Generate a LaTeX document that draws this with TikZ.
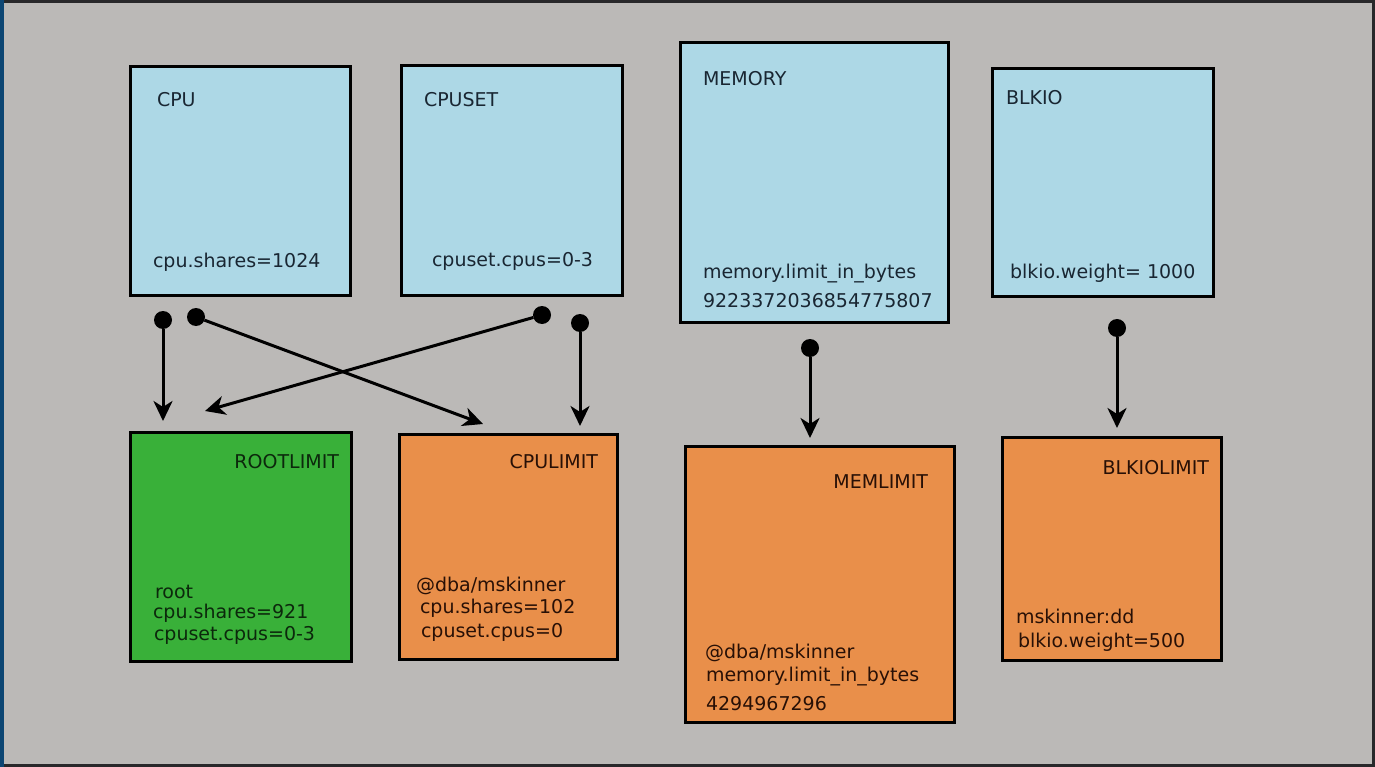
\documentclass[tikz,border=0pt]{standalone}
\usepackage{fontspec}
\setmainfont{DejaVu Sans}
\usetikzlibrary{arrows.meta}
\definecolor{bggray}{RGB}{187,185,183}
\definecolor{framec}{RGB}{40,40,42}
\definecolor{stripc}{RGB}{12,70,115}
\definecolor{lblue}{RGB}{173,216,230}
\definecolor{lgreen}{RGB}{57,176,57}
\definecolor{lorange}{RGB}{233,143,74}
\definecolor{tblue}{RGB}{25,38,50}
\definecolor{tgreen}{RGB}{12,40,12}
\definecolor{torange}{RGB}{40,16,6}
\tikzset{
  box/.style={draw=black, line width=3pt, inner sep=0pt, outer sep=0pt, anchor=north west},
  txt/.style={inner sep=0pt, outer sep=0pt, font=\fontsize{19}{22}\selectfont},
  tl/.style={txt, anchor=base west},
  tr/.style={txt, anchor=base east},
  dotnode/.style={circle, fill=black, inner sep=0pt, minimum size=18pt, outer sep=0pt},
  conn/.style={line width=3pt, -{Stealth[length=20pt,width=19pt,inset=6pt]}},
}
\begin{document}
\begin{tikzpicture}[x=1pt,y=-1pt]
\useasboundingbox (0,0) rectangle (1375,767);
\fill[bggray] (0,0) rectangle (1375,767);
\draw[framec, line width=3pt] (1.5,1.5) rectangle (1373.5,765.5);
\fill[stripc] (0,0) rectangle (3.5,767);

% top boxes
\node[box, fill=lblue, minimum width=220pt, minimum height=228pt] (cpu) at (130,67) {};
\node[box, fill=lblue, minimum width=221pt, minimum height=229pt] (cpuset) at (401,66) {};
\node[box, fill=lblue, minimum width=268pt, minimum height=279pt] (memory) at (680,43) {};
\node[box, fill=lblue, minimum width=221pt, minimum height=227pt] (blkio) at (992,69) {};
% bottom boxes
\node[box, fill=lgreen, minimum width=221pt, minimum height=229pt] (rootlimit) at (130,432) {};
\node[box, fill=lorange, minimum width=218pt, minimum height=225pt] (cpulimit) at (399,434) {};
\node[box, fill=lorange, minimum width=269pt, minimum height=276pt] (memlimit) at (685,446) {};
\node[box, fill=lorange, minimum width=219pt, minimum height=223pt] (blkiolimit) at (1002,437) {};

% texts top
\node[tl, text=tblue] (cpuT) at (157,107) {CPU};
\node[tl, text=tblue] (cpuV) at (153,267) {cpu.shares=1024};
\node[tl, text=tblue] (cpusetT) at (424,107) {CPUSET};
\node[tl, text=tblue] (cpusetV) at (432,266) {cpuset.cpus=0-3};
\node[tl, text=tblue] (memT) at (703,86) {MEMORY};
\node[tl, text=tblue] (memV1) at (703,278) {memory.limit\_in\_bytes};
\node[tl, text=tblue] (memV2) at (703,307) {9223372036854775807};
\node[tl, text=tblue] (blkT) at (1006,105) {BLKIO};
\node[tl, text=tblue] (blkV) at (1010,279) {blkio.weight= 1000};

% texts bottom
\node[tr, text=tgreen] (rootT) at (339,468) {ROOTLIMIT};
\node[tl, text=tgreen] (rootV1) at (155,598) {root};
\node[tl, text=tgreen] (rootV2) at (153,618) {cpu.shares=921};
\node[tl, text=tgreen] (rootV3) at (154,640) {cpuset.cpus=0-3};
\node[tr, text=torange] (cpulT) at (598,468) {CPULIMIT};
\node[tl, text=torange] (cpulV1) at (416,591) {@dba/mskinner};
\node[tl, text=torange] (cpulV2) at (420,613) {cpu.shares=102};
\node[tl, text=torange] (cpulV3) at (421,637) {cpuset.cpus=0};
\node[tr, text=torange] (memlT) at (928,488) {MEMLIMIT};
\node[tl, text=torange] (memlV1) at (705,658) {@dba/mskinner};
\node[tl, text=torange] (memlV2) at (706,681) {memory.limit\_in\_bytes};
\node[tl, text=torange] (memlV3) at (706,710) {4294967296};
\node[tr, text=torange] (blklT) at (1209,474) {BLKIOLIMIT};
\node[tl, text=torange] (blklV1) at (1016,623) {mskinner:dd};
\node[tl, text=torange] (blklV2) at (1018,647) {blkio.weight=500};

% connector dots and ends
\node[dotnode] (d1) at (163,320) {};
\node[dotnode] (d2) at (196,317) {};
\node[dotnode] (d3) at (542,315) {};
\node[dotnode] (d4) at (580,323) {};
\node[dotnode] (d5) at (810,348) {};
\node[dotnode] (d6) at (1117,328) {};
\coordinate (e1) at (163,421);
\coordinate (e2) at (483,424);
\coordinate (e3) at (205,411);
\coordinate (e4) at (580,426);
\coordinate (e5) at (810,438);
\coordinate (e6) at (1117,428);

\draw[conn] (d1) -- (e1);
\draw[conn] (d2) -- (e2);
\draw[conn] (d3) -- (e3);
\draw[conn] (d4) -- (e4);
\draw[conn] (d5) -- (e5);
\draw[conn] (d6) -- (e6);
\end{tikzpicture}
\end{document}
